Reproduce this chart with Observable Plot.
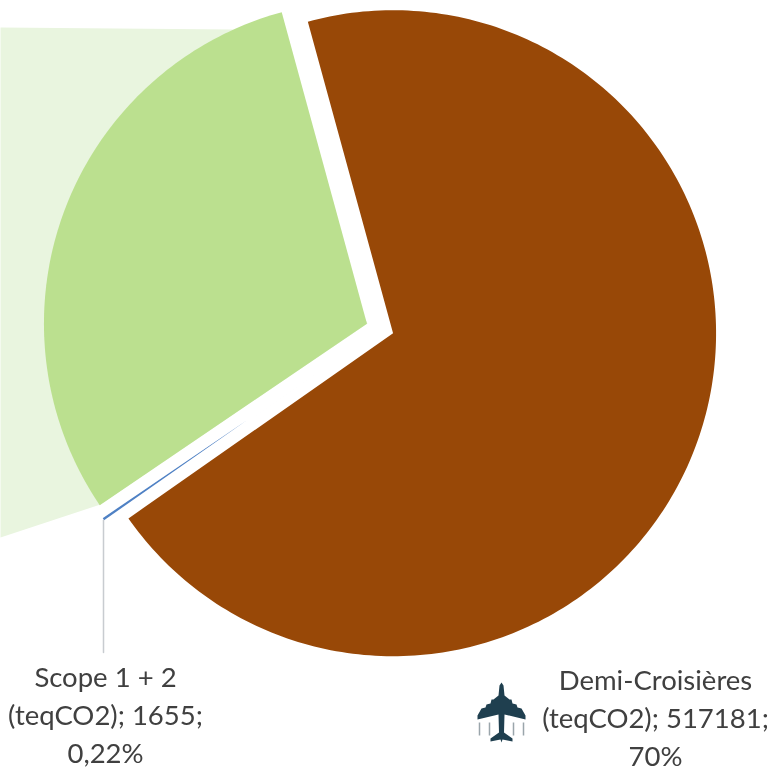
<!DOCTYPE html>
<html lang="fr">
<head>
<meta charset="utf-8">
<script src="https://cdn.jsdelivr.net/npm/d3@7"></script>
<script src="https://cdn.jsdelivr.net/npm/@observablehq/plot@0.6"></script>
<style>
html,body{margin:0;padding:0;background:#fff}
svg{display:block;filter:blur(0.7px)}
</style>
</head>
<body>
<div id="chart"></div>
<script>
// Values
const categories = ["Demi-Croisières (teqCO2)", "Scope 1 + 2 (teqCO2)", "Autres (estimé)"];
const values = [517181, 1655, 224964];
const sliceColors = ["#984807", "#4f81c4", "#BBE08F"];

const labelTexts = ["Scope 1 + 2\n(teqCO2); 1655;\n0,22%", "Demi-Croisières\n(teqCO2); 517181;\n70%"];
const labelX = [105, 655];
const labelY = [715, 718];

const bandX = [0, 232, 367, 100, 0];
const bandY = [27, 29, 323, 504, 537];

const leaderX = [103, 103];
const leaderY = [520, 652];

// Layout of the exploded pie
const W = 773, H = 771;
const cx = 379.5, cy = 328, radius = 323, explode = 13.9;
const startDeg = -15.3;

const arcs = d3.pie().sort(null).startAngle(startDeg * Math.PI / 180).endAngle((startDeg + 360) * Math.PI / 180)(values);
const slicePoints = arcs.flatMap((a, i) => {
  const mid = (a.startAngle + a.endAngle) / 2;
  const ox = cx + explode * Math.sin(mid), oy = cy - explode * Math.cos(mid);
  const n = Math.max(2, Math.ceil((a.endAngle - a.startAngle) * 180 / Math.PI));
  const rim = d3.range(n + 1).map(k => {
    const t = a.startAngle + (a.endAngle - a.startAngle) * k / n;
    return {name: categories[i], color: sliceColors[i], thin: values[i] < 5000, x: ox + radius * Math.sin(t), y: oy - radius * Math.cos(t)};
  });
  const tip = {name: categories[i], color: sliceColors[i], thin: values[i] < 5000, x: ox, y: oy};
  return [tip, ...rim, tip];
});

// Plane icon, as custom symbols for Plot.dot (unit: r = 30)
const planeHalf = [[0,-30],[2,-27],[3,-17],[8,-13],[10,-13],[11,-9],[15,-8],[16,-5],[20,-4],[24,3],[24,7],[3,2],[2.5,20],[11,26],[11,29],[1,27],[0,30]];
const planeSymbol = {draw(ctx, size) {
  const s = Math.sqrt(size / Math.PI) / 30;
  const pts = [...planeHalf, ...planeHalf.slice(1, -1).reverse().map(([a, b]) => [-a, b])];
  pts.forEach(([a, b], i) => i ? ctx.lineTo(a * s, b * s) : ctx.moveTo(a * s, b * s));
  ctx.closePath();
}};
const trailSymbol = {draw(ctx, size) {
  const s = Math.sqrt(size / Math.PI) / 30;
  for (const a of [-22, -12, 12, 22]) { ctx.moveTo(a * s, 10 * s); ctx.lineTo(a * s, 23 * s); }
}};

const plot = Plot.plot({
  width: W, height: H,
  margin: 0,
  x: {domain: [0, W], axis: null},
  y: {domain: [0, H], reverse: true, axis: null},
  marks: [
    Plot.line(bandX.map((x, i) => ({x, y: bandY[i]})), {x: "x", y: "y", fill: "#E9F5DF", stroke: "none"}),
    Plot.line(slicePoints.filter(d => !d.thin), {x: "x", y: "y", z: "name", fill: "color", stroke: "none"}),
    Plot.line(slicePoints.filter(d => d.thin), {x: "x", y: "y", z: "name", fill: "color", stroke: "#fff", strokeWidth: 2, strokeLinejoin: "miter"}),
    Plot.line(leaderX.map((x, i) => ({x, y: leaderY[i]})), {x: "x", y: "y", stroke: "#c8ccd0", strokeWidth: 1.5}),
    Plot.text(labelTexts, {
      x: (d, i) => labelX[i], y: (d, i) => labelY[i] - 3, text: d => d,
      fontFamily: "Lato, 'Open Sans', sans-serif", fontSize: 27.5, fill: "#404040",
      textAnchor: "middle", lineHeight: 1.38
    }),
    Plot.dot([[501, 712]], {x: "0", y: "1", r: 30, symbol: trailSymbol, stroke: "#9aa5ab", strokeWidth: 1.5, fill: "none"}),
    Plot.dot([[501, 712]], {x: "0", y: "1", r: 30, symbol: planeSymbol, fill: "#1f3f4f", stroke: "none"})
  ]
});
document.getElementById("chart").append(plot);
</script>
</body>
</html>
